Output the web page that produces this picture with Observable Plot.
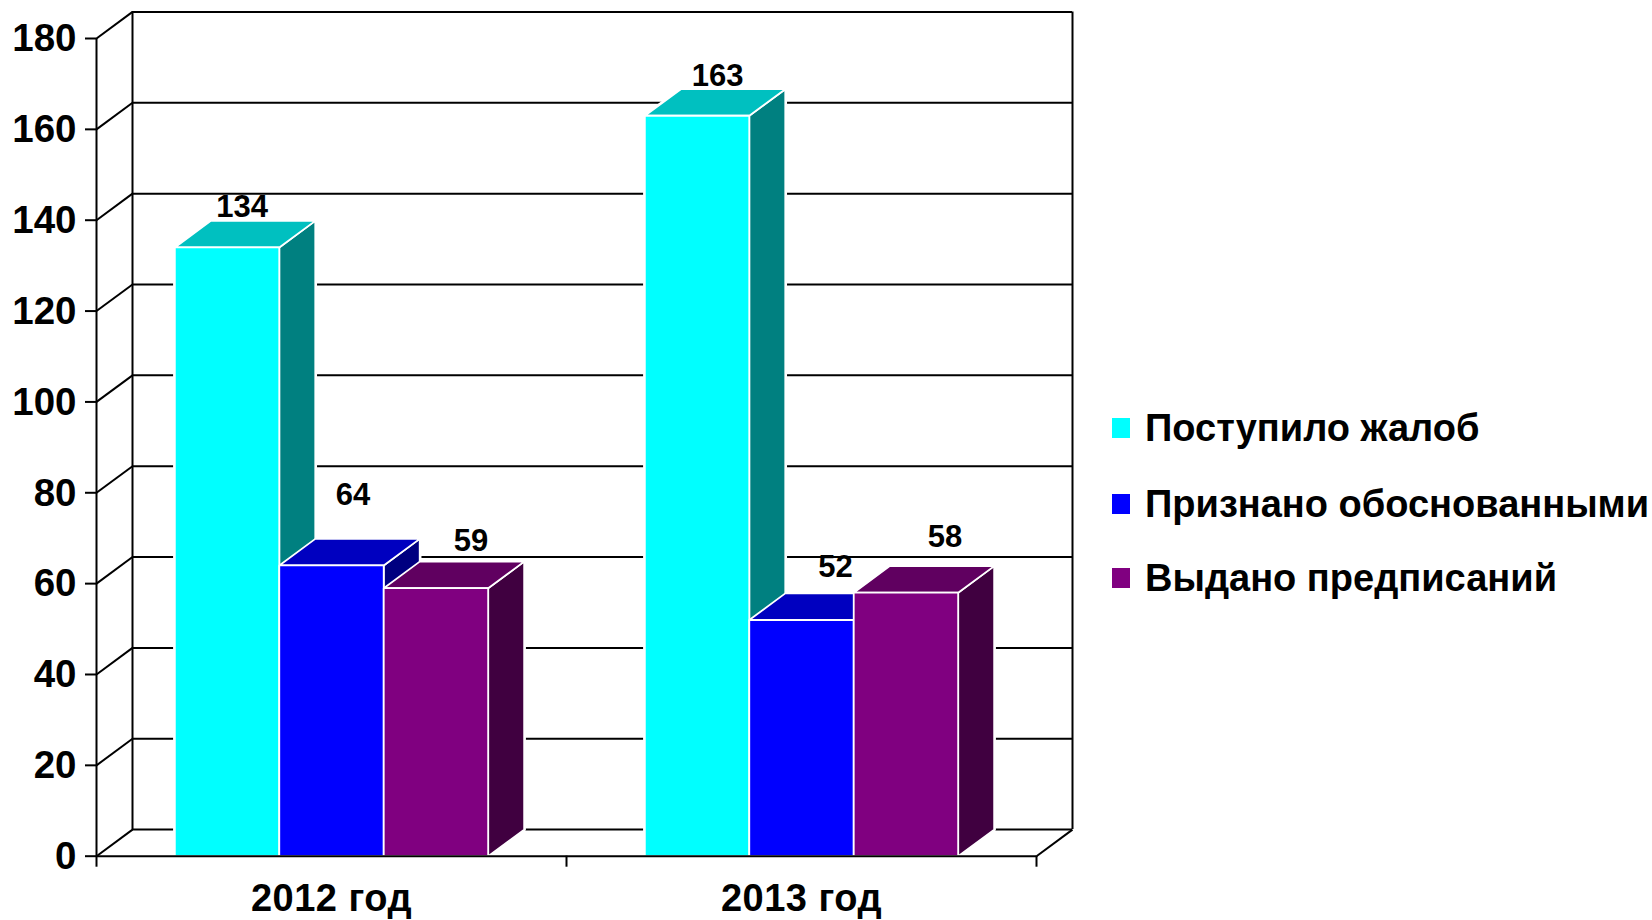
<!DOCTYPE html>
<html><head><meta charset="utf-8">
<script src="https://cdn.jsdelivr.net/npm/d3@7"></script>
<script src="https://cdn.jsdelivr.net/npm/@observablehq/plot@0.6"></script>
<style>
html,body{margin:0;padding:0;background:#fff}
#chart{position:relative;width:1652px;height:920px;font-family:"Liberation Sans",Arial,sans-serif}
#chart svg [aria-label="x-axis tick label"]{letter-spacing:.5px}
.row{position:absolute;left:1111.5px;font-weight:bold;font-size:38px;line-height:40px;height:40px;white-space:nowrap;color:#000}
.row i{position:absolute;left:0;top:10px;width:18.5px;height:20px}
.row span{position:absolute;left:33.5px;top:0}
</style></head><body><div id="chart"></div>
<script>
const categories = ["2012 год", "2013 год"];
const seriesNames = ["Поступило жалоб", "Признано обоснованными", "Выдано предписаний"];
const received = [134, 163];
const justified = [64, 52];
const orders = [59, 58];
const yTicks = [0, 20, 40, 60, 80, 100, 120, 140, 160, 180];
const frontColors = ["#00FFFF", "#0000FF", "#800080"];
const topColors = ["#00C0C0", "#0000C0", "#600060"];
const sideColors = ["#008080", "#000080", "#400040"];

// Chart geometry in scale units
const barW = 1 / 4.5, gap = 0.75 * barW;
const depthX = 0.0766, depthY = 5.85;
const series = [received, justified, orders];

const faces = [], labels = [];
// pixel nudges of the value labels: [dx, dy]
const nudges = [[[-3, -13.5], [3.5, -44], [17, -21]], [[2.5, -13], [16, -26], [21, -29]]];
categories.forEach((c, ci) => {
  series.forEach((vals, si) => {
    const v = vals[ci], x0 = ci + gap + si * barW, x1 = x0 + barW;
    const add = (name, color, pts) => pts.forEach(([x, y]) => faces.push({id: `${ci}-${si}-${name}`, color, x, y}));
    add("side", sideColors[si], [[x1, 0], [x1 + depthX, depthY], [x1 + depthX, v + depthY], [x1, v]]);
    add("top", topColors[si], [[x0, v], [x1, v], [x1 + depthX, v + depthY], [x0 + depthX, v + depthY]]);
    add("front", frontColors[si], [[x0, 0], [x1, 0], [x1, v], [x0, v]]);
    labels.push({x: (x0 + x1 + depthX) / 2, y: v + depthY, v, dx: nudges[ci][si][0], dy: nudges[ci][si][1]});
  });
});

const line = {stroke: "#000", strokeWidth: 2};
const plot = Plot.plot({
  width: 1652, height: 920,
  marginLeft: 96, marginRight: 616, marginTop: 38, marginBottom: 64.3,
  x: {domain: [0, 2]},
  y: {domain: [0, 180]},
  color: {type: "identity"},
  style: {fontFamily: "'Liberation Sans', Arial, sans-serif", background: "#fff", color: "#000"},
  marks: [
    // back wall
    Plot.ruleY(yTicks, {y: d => d + depthY, x1: depthX, x2: 2 + depthX, ...line}),
    Plot.link(yTicks, {x1: 0, y1: d => d, x2: depthX, y2: d => d + depthY, ...line}),
    Plot.ruleX([depthX, 2 + depthX], {y1: depthY, y2: 180 + depthY, ...line}),
    Plot.link([0], {x1: 2, y1: 0, x2: 2 + depthX, y2: depthY, ...line}),
    Plot.ruleX([0], {y1: 0, y2: 180, ...line}),
    // bars: a wider white halo under the white-edged faces
    Plot.line(faces, {x: "x", y: "y", z: "id", curve: "linear-closed", fill: "color", stroke: "#fff", strokeWidth: 3.5, strokeLinejoin: "miter"}),
    Plot.line(faces, {x: "x", y: "y", z: "id", curve: "linear-closed", fill: "color", stroke: "#fff", strokeWidth: 1.8, strokeLinejoin: "miter"}),
    // floor front edge and axes
    Plot.ruleY([0], {x1: 0, x2: 2, ...line}),
    Plot.axisY({ticks: yTicks, anchor: "left", label: null, tickSize: 11, tickFormat: () => "", strokeWidth: 2, stroke: "#000"}),
    Plot.axisY({ticks: yTicks, anchor: "left", label: null, tickSize: 0, tickPadding: 20, dy: 0.5, fontSize: 38.5, fontWeight: "bold", fill: "#000"}),
    Plot.axisX({ticks: [0, 1, 2], tickSize: 11, tickFormat: () => "", label: null, strokeWidth: 2, stroke: "#000"}),
    Plot.axisX({ticks: [0.5, 1.5], tickSize: 0, tickPadding: 27.5, tickFormat: d => categories[Math.floor(d)], label: null, fontSize: 38, fontWeight: "bold", fill: "#000"}),
    // value labels, each placed by hand in the reference
    ...labels.map(l => Plot.text([l], {x: "x", y: "y", text: d => String(d.v), dx: l.dx, dy: l.dy, fontSize: 31, fontWeight: "bold", fill: "#000", lineAnchor: "middle", textAnchor: "middle"}))
  ]
});
const root = document.getElementById("chart");
root.appendChild(plot);
const tops = [408, 484, 558];
seriesNames.forEach((name, i) => {
  const row = document.createElement("div");
  row.className = "row";
  row.style.top = tops[i] + "px";
  row.innerHTML = `<i style="background:${frontColors[i]}"></i><span>${name}</span>`;
  root.appendChild(row);
});
</script></body></html>
